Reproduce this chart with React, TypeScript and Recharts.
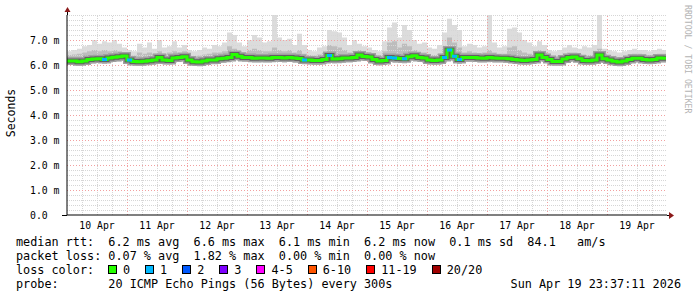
import { ComposedChart, Area, Line, XAxis, YAxis, ReferenceLine } from "recharts";

const MONO = '"DejaVu Sans Mono", monospace';

// one sample every 2 hours, starting 10 Apr 00:00
const DAY_LABELS = ["10 Apr", "11 Apr", "12 Apr", "13 Apr", "14 Apr", "15 Apr", "16 Apr", "17 Apr", "18 Apr", "19 Apr"];
const Y_LABELS = ["0.0", "1.0 m", "2.0 m", "3.0 m", "4.0 m", "5.0 m", "6.0 m", "7.0 m"];

const MEDIAN = [
    6.16, 6.16, 6.13, 6.16, 6.22, 6.24, 6.25, 6.22, 6.28, 6.31, 6.33, 6.36,
    6.2, 6.14, 6.13, 6.15, 6.17, 6.2, 6.3, 6.2, 6.18, 6.28, 6.3, 6.33,
    6.2, 6.13, 6.12, 6.16, 6.2, 6.2, 6.25, 6.27, 6.3, 6.42, 6.35, 6.3,
    6.3, 6.27, 6.28, 6.28, 6.27, 6.3, 6.3, 6.28, 6.3, 6.28, 6.26, 6.2,
    6.2, 6.18, 6.18, 6.22, 6.38, 6.24, 6.25, 6.28, 6.28, 6.3, 6.4, 6.34,
    6.32, 6.22, 6.16, 6.18, 6.3, 6.28, 6.26, 6.25, 6.33, 6.37, 6.3, 6.28,
    6.2, 6.18, 6.2, 6.3, 6.6, 6.35, 6.22, 6.3, 6.3, 6.3, 6.28, 6.27,
    6.3, 6.28, 6.27, 6.27, 6.25, 6.22, 6.2, 6.18, 6.2, 6.22, 6.4, 6.3,
    6.22, 6.14, 6.14, 6.24, 6.3, 6.32, 6.25, 6.18, 6.17, 6.2, 6.4, 6.25,
    6.2, 6.15, 6.12, 6.16, 6.22, 6.27, 6.27, 6.22, 6.2, 6.22, 6.28, 6.27,
];

const PING_MIN = [
    6.0, 6.0, 5.97, 6.0, 6.05, 6.07, 6.08, 6.05, 6.1, 6.12, 6.14, 6.18,
    6.03, 5.98, 5.96, 5.98, 6.0, 6.03, 6.12, 6.03, 6.02, 6.1, 6.12, 6.15,
    6.03, 5.96, 5.95, 5.99, 6.03, 6.03, 6.08, 6.1, 6.13, 6.24, 6.18, 6.13,
    6.12, 6.1, 6.1, 6.1, 6.1, 6.12, 6.12, 6.1, 6.12, 6.1, 6.08, 6.03,
    6.03, 6.0, 6.0, 6.05, 6.18, 6.06, 6.07, 6.1, 6.1, 6.12, 6.22, 6.16,
    6.15, 6.05, 5.98, 6.0, 6.12, 6.1, 6.08, 6.07, 6.15, 6.19, 6.12, 6.1,
    6.03, 6.0, 6.02, 6.1, 6.38, 6.15, 6.04, 6.12, 6.12, 6.12, 6.1, 6.1,
    6.12, 6.1, 6.1, 6.1, 6.08, 6.05, 6.03, 6.0, 6.02, 6.05, 6.22, 6.12,
    6.05, 5.97, 5.97, 6.07, 6.12, 6.15, 6.08, 6.0, 6.0, 6.03, 6.22, 6.08,
    6.03, 5.98, 5.95, 5.99, 6.05, 6.1, 6.1, 6.05, 6.03, 6.05, 6.1, 6.1,
];

const PING_P90 = [
    6.4, 6.42, 6.45, 6.5, 6.55, 6.6, 6.55, 6.6, 6.55, 6.6, 6.55, 6.5,
    6.4, 6.38, 6.5, 6.45, 6.5, 6.45, 6.55, 6.45, 6.5, 6.55, 6.5, 6.55,
    6.4, 6.35, 6.38, 6.42, 6.45, 6.5, 6.5, 6.55, 6.75, 6.65, 6.55, 6.5,
    6.6, 6.65, 6.6, 6.55, 6.55, 6.7, 6.6, 6.55, 6.6, 6.5, 6.6, 6.45,
    6.4, 6.38, 6.42, 6.5, 6.8, 6.75, 6.7, 6.6, 6.5, 6.55, 6.6, 6.5,
    6.5, 6.4, 6.38, 6.55, 6.9, 6.95, 6.7, 6.85, 6.75, 6.6, 6.5, 6.5,
    6.4, 6.4, 6.45, 6.7, 7.1, 6.9, 6.7, 6.5, 6.55, 6.5, 6.48, 6.5,
    6.6, 6.5, 6.45, 6.45, 6.7, 6.75, 6.6, 6.5, 6.45, 6.42, 6.6, 6.5,
    6.4, 6.35, 6.38, 6.45, 6.5, 6.5, 6.42, 6.4, 6.4, 6.45, 6.65, 6.45,
    6.38, 6.35, 6.32, 6.36, 6.42, 6.45, 6.45, 6.42, 6.4, 6.42, 6.45, 6.45,
];

const PING_MAX = [
    6.55, 6.6, 6.65, 6.75, 6.8, 7.0, 6.85, 6.95, 6.9, 7.0, 6.85, 6.7,
    6.6, 6.55, 6.85, 6.7, 6.9, 6.65, 7.0, 6.7, 6.75, 6.95, 6.7, 6.8,
    6.6, 6.55, 6.6, 6.7, 6.65, 6.8, 6.75, 6.9, 7.3, 7.2, 6.9, 6.75,
    7.0, 7.2, 7.1, 6.9, 6.95, 8.0, 7.1, 7.0, 7.05, 6.8, 7.25, 6.8,
    6.6, 6.55, 6.7, 6.75, 7.4, 7.35, 7.3, 7.1, 6.8, 7.0, 6.85, 6.75,
    6.7, 6.6, 6.55, 6.95, 7.5, 7.7, 7.1, 7.6, 7.4, 7.0, 6.85, 6.9,
    6.7, 6.65, 6.8, 7.3, 7.85, 7.6, 7.4, 6.75, 6.85, 6.8, 6.7, 6.75,
    8.0, 6.9, 6.7, 6.75, 7.45, 7.5, 7.3, 7.0, 6.9, 6.75, 6.95, 6.8,
    6.6, 6.55, 6.6, 6.7, 6.8, 6.7, 6.65, 6.75, 6.7, 6.8, 8.0, 6.65,
    6.6, 6.55, 6.5, 6.55, 6.6, 6.65, 6.6, 6.6, 6.55, 6.6, 6.65, 6.6,
];

// lost pings out of 20 per sample
const LOSS = [
    0, 0, 0, 0, 0, 0, 0, 1, 0, 0, 0, 0,
    1, 0, 0, 0, 0, 0, 0, 0, 0, 0, 0, 0,
    0, 0, 0, 0, 0, 0, 0, 0, 0, 0, 0, 0,
    0, 0, 0, 0, 0, 0, 0, 0, 0, 0, 0, 1,
    0, 0, 0, 0, 1, 0, 0, 0, 0, 0, 0, 0,
    0, 0, 0, 0, 1, 1, 0, 1, 0, 0, 0, 0,
    0, 0, 0, 1, 1, 1, 1, 0, 0, 0, 0, 0,
    0, 0, 0, 0, 0, 0, 0, 0, 0, 0, 0, 0,
    0, 0, 0, 0, 0, 0, 0, 0, 0, 0, 0, 0,
    0, 0, 0, 0, 0, 0, 0, 0, 0, 0, 0, 0,
];

const LOSS_LABELS = ["0", "1", "2", "3", "4-5", "6-10", "11-19", "20/20"];
const LOSS_COLORS = ["#26ff00", "#00b8ff", "#0059ff", "#7e00ff", "#ff00ff", "#ff5500", "#ff0000", "#a00000"];

const rows = MEDIAN.map((m, i) => ({
    t: i * 2,
    median: m,
    outer: [PING_MIN[i], PING_MAX[i]],
    inner: [PING_MIN[i], PING_P90[i]],
    lossMedian: LOSS[i] > 0 ? m : null,
    loss: LOSS[i],
}));
// closing sample so the last step is drawn
rows.push({ ...rows[rows.length - 1], t: 239.6 });

const MINOR_Y: number[] = [];
for (let v = 0.2; v < 8.01; v += 0.2) if (Math.abs(v - Math.round(v)) > 0.01) MINOR_Y.push(+v.toFixed(1));
MINOR_Y.push(8);
const MAJOR_Y = [1, 2, 3, 4, 5, 6, 7];
const MINOR_X: number[] = [];
for (let h = 6; h < 240; h += 6) if (h % 24 !== 0) MINOR_X.push(h);
const MAJOR_X = [24, 48, 72, 96, 120, 144, 168, 192, 216];
const DAY_MID = DAY_LABELS.map((_, i) => i * 24 + 12);

const DayTick = (props: any) => {
    const { x, payload } = props;
    return (
        <text x={x} y={229} textAnchor="middle" fontFamily={MONO} fontSize={9.8} fill="#000">
            {DAY_LABELS[DAY_MID.indexOf(payload.value)]}
        </text>
    );
};

const ValueTick = (props: any) => {
    const { y, payload } = props;
    return (
        <text x={30} y={y + 3.5} textAnchor="start" fontFamily={MONO} fontSize={9.8} fill="#000">
            {Y_LABELS[payload.value]}
        </text>
    );
};

const LossDot = (props: any) => {
    const { cx, cy, payload, index } = props;
    if (cx == null || cy == null || !payload || payload.lossMedian == null) return <g key={`ld-${index}`} />;
    return <rect key={`ld-${index}`} x={cx} y={cy - 1.5} width={5} height={3} fill={LOSS_COLORS[payload.loss]} />;
};

export default function App() {
    const rowTop = [235, 249, 263, 277];
    let bx = 108;
    const lossItems = LOSS_LABELS.map((label, i) => {
        const item = { label, color: LOSS_COLORS[i], x: bx };
        bx += 15 + label.length * 7.11 + 15;
        return item;
    });

    return (
        <div style={{ position: "absolute", left: 0, top: 0, width: 697, height: 297, background: "#fff", fontFamily: MONO }}>
            <ComposedChart width={697} height={297} data={rows} margin={{ top: 15, right: 30, bottom: 62, left: 27 }}>
                <XAxis type="number" dataKey="t" domain={[0, 240]} ticks={DAY_MID} tick={DayTick}
                    tickLine={false} axisLine={false} height={20} interval={0} />
                <YAxis type="number" domain={[0, 8]} ticks={[0, 1, 2, 3, 4, 5, 6, 7]} tick={ValueTick}
                    tickLine={false} axisLine={false} width={40} interval={0} allowDataOverflow />

                {MINOR_Y.map((v) => (
                    <ReferenceLine key={`my${v}`} y={v} stroke="#d6d6d6" strokeDasharray="1 1" shapeRendering="crispEdges" />
                ))}
                {MINOR_X.map((h) => (
                    <ReferenceLine key={`mx${h}`} x={h} stroke="#d6d6d6" strokeDasharray="1 1" shapeRendering="crispEdges" />
                ))}
                {MAJOR_Y.map((v) => (
                    <ReferenceLine key={`My${v}`} y={v} stroke="#f2a0a0" strokeDasharray="1 2" shapeRendering="crispEdges" />
                ))}
                {MAJOR_X.map((h) => (
                    <ReferenceLine key={`Mx${h}`} x={h} stroke="#f2a0a0" strokeDasharray="1 2" shapeRendering="crispEdges" />
                ))}

                <Area dataKey="outer" type="stepAfter" stroke="none" fill="#dcdcdc" fillOpacity={1}
                    isAnimationActive={false} dot={false} activeDot={false} />
                <Area dataKey="inner" type="stepAfter" stroke="none" fill="#bdbdbd" fillOpacity={1}
                    isAnimationActive={false} dot={false} activeDot={false} />
                <Line dataKey="median" type="stepAfter" stroke="#a0a0a0" strokeWidth={8}
                    isAnimationActive={false} dot={false} activeDot={false} />
                <Line dataKey="median" type="stepAfter" stroke="#606060" strokeWidth={5}
                    isAnimationActive={false} dot={false} activeDot={false} />
                <Line dataKey="median" type="stepAfter" stroke={LOSS_COLORS[0]} strokeWidth={3}
                    isAnimationActive={false} dot={false} activeDot={false} />
                <Line dataKey="lossMedian" type="stepAfter" stroke="none"
                    isAnimationActive={false} dot={LossDot} activeDot={false} />

                <ReferenceLine y={0} stroke="#000" ifOverflow="visible" />
                <ReferenceLine x={0} stroke="#000" ifOverflow="visible" />
            </ComposedChart>

            <svg width={697} height={297} style={{ position: "absolute", left: 0, top: 0, pointerEvents: "none" }}>
                <line x1={62} y1={215.5} x2={67} y2={215.5} stroke="#000" />
                <line x1={667} y1={215.5} x2={670} y2={215.5} stroke="#000" />
                <line x1={67.5} y1={15} x2={67.5} y2={11} stroke="#000" />
                <polygon points="64.5,12 70.5,12 67.5,7" fill="#8b1a1a" />
                <polygon points="669,212 669,219 674,215.5" fill="#8b1a1a" />
                <text transform="translate(14.5,113) rotate(-90)" textAnchor="middle" fontFamily={MONO} fontSize={11.5} fill="#000">
                    Seconds
                </text>
                <text transform="translate(684.5,5) rotate(90)" textAnchor="start" fontFamily={MONO} fontSize={8.2} fill="#b4b4b4">
                    RRDTOOL / TOBI OETIKER
                </text>
            </svg>

            {[
                "median rtt:  6.2 ms avg  6.6 ms max  6.1 ms min  6.2 ms now  0.1 ms sd  84.1   am/s",
                "packet loss: 0.07 % avg  1.82 % max  0.00 % min  0.00 % now",
                "loss color:",
                "probe:       20 ICMP Echo Pings (56 Bytes) every 300s",
            ].map((line, i) => (
                <div key={i} style={{ position: "absolute", left: 16, top: rowTop[i], fontSize: 11.8, lineHeight: "14px", whiteSpace: "pre", color: "#000" }}>
                    {line}
                </div>
            ))}
            {lossItems.map((it) => (
                <div key={it.label}>
                    <div style={{ position: "absolute", left: it.x, top: 265, width: 9, height: 9, boxSizing: "border-box", border: "1px solid #000", background: it.color }} />
                    <div style={{ position: "absolute", left: it.x + 15, top: rowTop[2], fontSize: 11.8, lineHeight: "14px", whiteSpace: "pre" }}>
                        {it.label}
                    </div>
                </div>
            ))}
            <div style={{ position: "absolute", right: 16, top: rowTop[3], fontSize: 11.8, lineHeight: "14px", whiteSpace: "pre" }}>
                Sun Apr 19 23:37:11 2026
            </div>
        </div>
    );
}
